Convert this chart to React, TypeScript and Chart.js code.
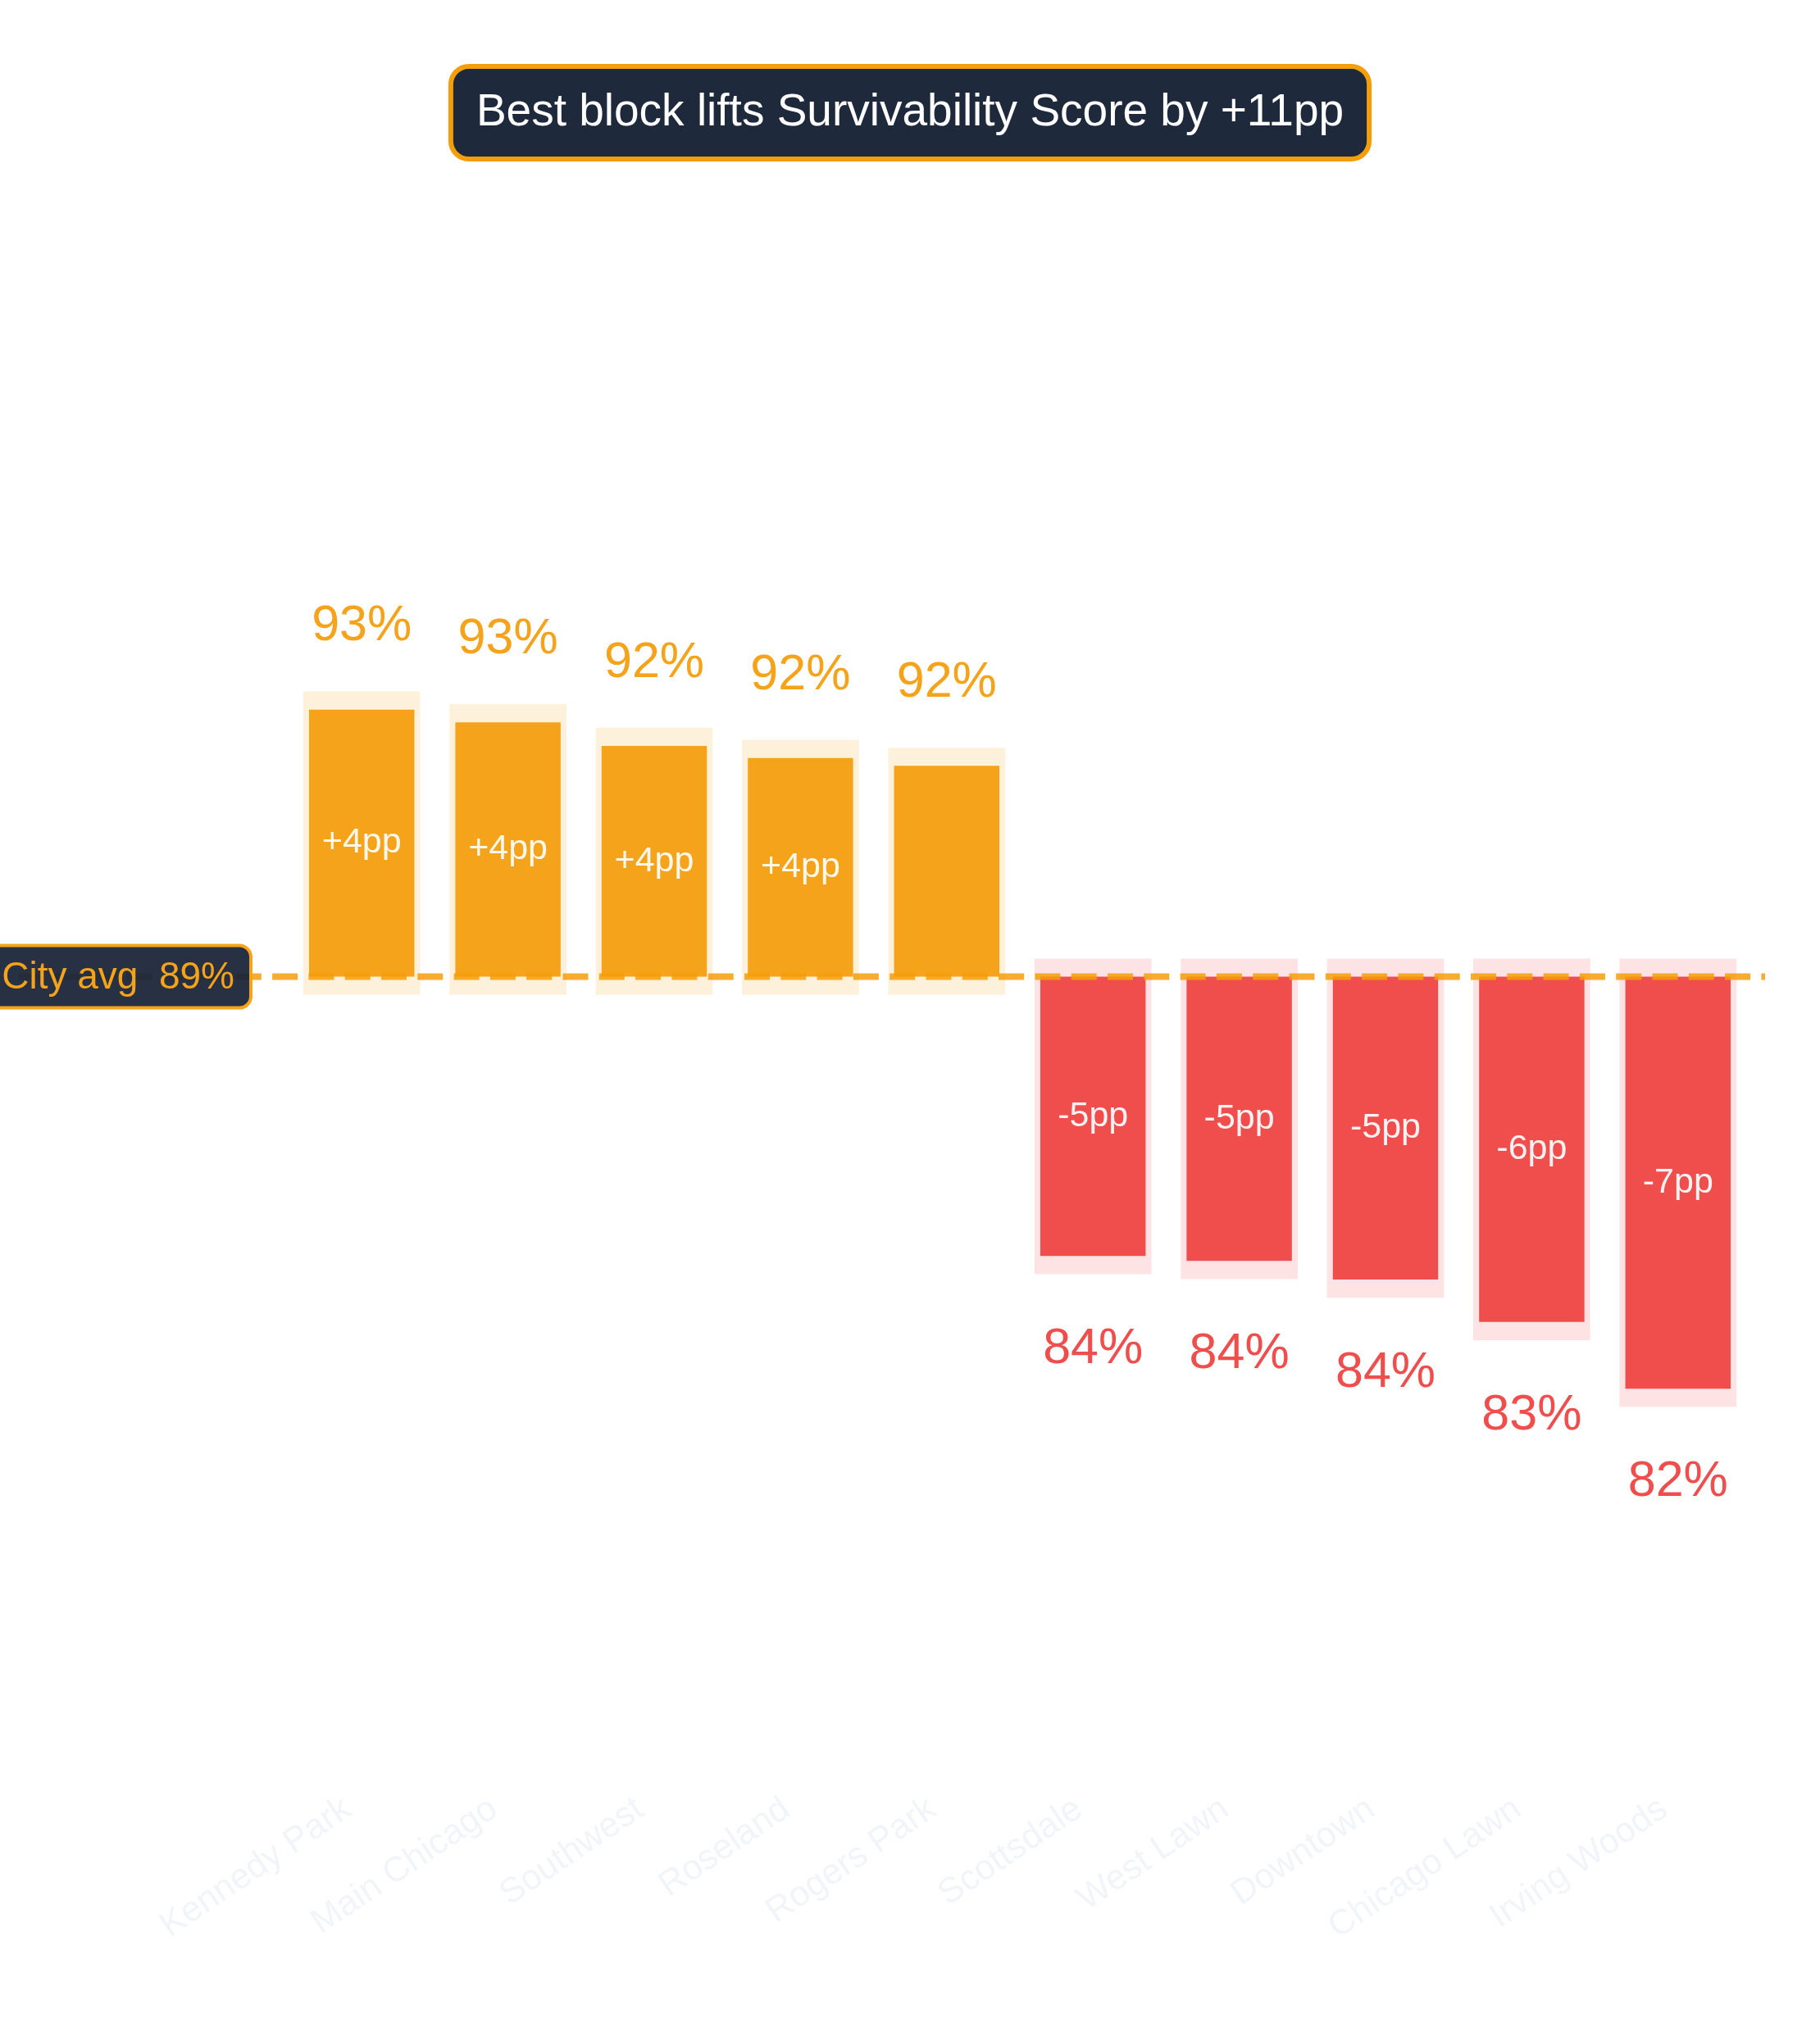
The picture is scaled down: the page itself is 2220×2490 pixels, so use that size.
import React, { useEffect, useRef } from 'react';
import { Chart, registerables } from 'chart.js';

Chart.register(...registerables);

// Données
const neighborhoods = [
  'Kennedy Park', 'Main Chicago', 'Southwest', 'Roseland', 'Rogers Park',
  'Scottsdale', 'West Lawn', 'Downtown', 'Chicago Lawn', 'Irving Woods',
];
const scores = [93.01, 92.8, 92.41, 92.21, 92.08, 83.99, 83.91, 83.6, 82.9, 81.8];
const cityAvg = 88.6;
const titleText = 'Best block lifts Survivability Score by +11pp';

const FONT = '"Liberation Sans", Arial, Helvetica, sans-serif';
const ORANGE = '#f5a31a';
const RED = '#f04e4d';
const ORANGE_SOFT = 'rgba(245, 158, 11, 0.15)';
const RED_SOFT = 'rgba(239, 68, 68, 0.15)';
const GLOW = 0.3; // marge du halo, en points

const overlayPlugin = {
  id: 'overlay',
  afterDatasetsDraw(chart: any) {
    const { ctx, chartArea, scales } = chart;
    const yAvg = scales.y.getPixelForValue(cityAvg);

    // Ligne moyenne
    ctx.save();
    ctx.setLineDash([31, 13.3]);
    ctx.lineWidth = 8;
    ctx.strokeStyle = 'rgba(245, 158, 11, 0.85)';
    ctx.beginPath();
    ctx.moveTo(chartArea.left - 330, yAvg);
    ctx.lineTo(chartArea.right + 17, yAvg);
    ctx.stroke();
    ctx.restore();

    // Etiquette City avg
    ctx.save();
    const boxRight = chartArea.left - 46;
    ctx.beginPath();
    ctx.roundRect(-18, yAvg - 38, boxRight + 18, 76, 14);
    ctx.fillStyle = 'rgba(30, 41, 59, 0.96)';
    ctx.fill();
    ctx.lineWidth = 4;
    ctx.strokeStyle = ORANGE;
    ctx.stroke();
    ctx.font = `46px ${FONT}`;
    ctx.fillStyle = ORANGE;
    ctx.textAlign = 'right';
    ctx.textBaseline = 'middle';
    ctx.fillText(`City avg  ${Math.round(cityAvg)}%`, boxRight - 20, yAvg + 2);
    ctx.restore();

    // Valeurs et écarts
    const meta = chart.getDatasetMeta(1);
    ctx.save();
    ctx.textAlign = 'center';
    ctx.textBaseline = 'middle';
    meta.data.forEach((bar: any, i: number) => {
      const { x, y, base } = bar.getProps(['x', 'y', 'base'], true);
      const up = scores[i] >= cityAvg;
      const top = Math.min(y, base);
      const bottom = Math.max(y, base);
      ctx.font = `61px ${FONT}`;
      ctx.fillStyle = up ? ORANGE : RED;
      ctx.fillText(`${Math.round(scores[i])}%`, x, up ? top - 101 : bottom + 114);
      const diff = scores[i] - cityAvg;
      if (Math.abs(diff) >= 3.5) {
        ctx.font = `43px ${FONT}`;
        ctx.fillStyle = 'rgba(255, 255, 255, 0.92)';
        ctx.fillText(`${diff > 0 ? '+' : '-'}${Math.round(Math.abs(diff))}pp`, x, (top + bottom) / 2);
      }
    });
    ctx.restore();
  },
  afterDraw(chart: any) {
    const { ctx, width } = chart;
    ctx.save();
    ctx.font = `55px ${FONT}`;
    const w = ctx.measureText(titleText).width + 62;
    ctx.beginPath();
    ctx.roundRect(width / 2 - w / 2, 81, w, 113, 22);
    ctx.fillStyle = '#1e293b';
    ctx.fill();
    ctx.lineWidth = 6;
    ctx.strokeStyle = '#f59e0b';
    ctx.stroke();
    ctx.fillStyle = '#ffffff';
    ctx.textAlign = 'center';
    ctx.textBaseline = 'middle';
    ctx.fillText(titleText, width / 2, 138);
    ctx.restore();
  },
};

const App: React.FC = () => {
  const canvasRef = useRef<HTMLCanvasElement>(null);

  useEffect(() => {
    if (!canvasRef.current) return;
    const colors = scores.map(v => (v >= cityAvg ? ORANGE : RED));
    const softColors = scores.map(v => (v >= cityAvg ? ORANGE_SOFT : RED_SOFT));

    const chart = new Chart(canvasRef.current, {
      type: 'bar',
      data: {
        labels: neighborhoods,
        datasets: [
          {
            label: 'halo',
            data: scores.map(v => (v >= cityAvg ? [cityAvg - GLOW, v + GLOW] : [v - GLOW, cityAvg + GLOW])),
            backgroundColor: softColors,
            borderWidth: 0,
            barPercentage: 1,
            categoryPercentage: 0.8,
            grouped: false,
            order: 2,
          },
          {
            label: 'Survivability Score',
            data: scores.map(v => [cityAvg, v]),
            backgroundColor: colors,
            borderWidth: 0,
            barPercentage: 0.9,
            categoryPercentage: 0.8,
            grouped: false,
            order: 1,
          },
        ] as any,
      },
      options: {
        responsive: true,
        maintainAspectRatio: false,
        animation: false,
        devicePixelRatio: 1,
        layout: { padding: { left: 352, right: 84, top: 349, bottom: 62 } },
        scales: {
          x: {
            grid: { display: false },
            border: { display: false },
            ticks: {
              color: '#f1f5f9',
              font: { size: 43, family: FONT },
              minRotation: 34,
              maxRotation: 34,
              padding: 51,
              labelOffset: -17,
            },
          },
          y: {
            display: false,
            min: 76,
            max: 100,
          },
        },
        plugins: {
          legend: { display: false },
          tooltip: { enabled: false },
        },
      },
      plugins: [overlayPlugin],
    });

    return () => {
      chart.destroy();
    };
  }, []);

  return (
    <div style={{ position: 'absolute', left: 0, top: 0, width: 2220, height: 2490, background: '#ffffff' }}>
      <canvas ref={canvasRef}></canvas>
    </div>
  );
};

export default App;
